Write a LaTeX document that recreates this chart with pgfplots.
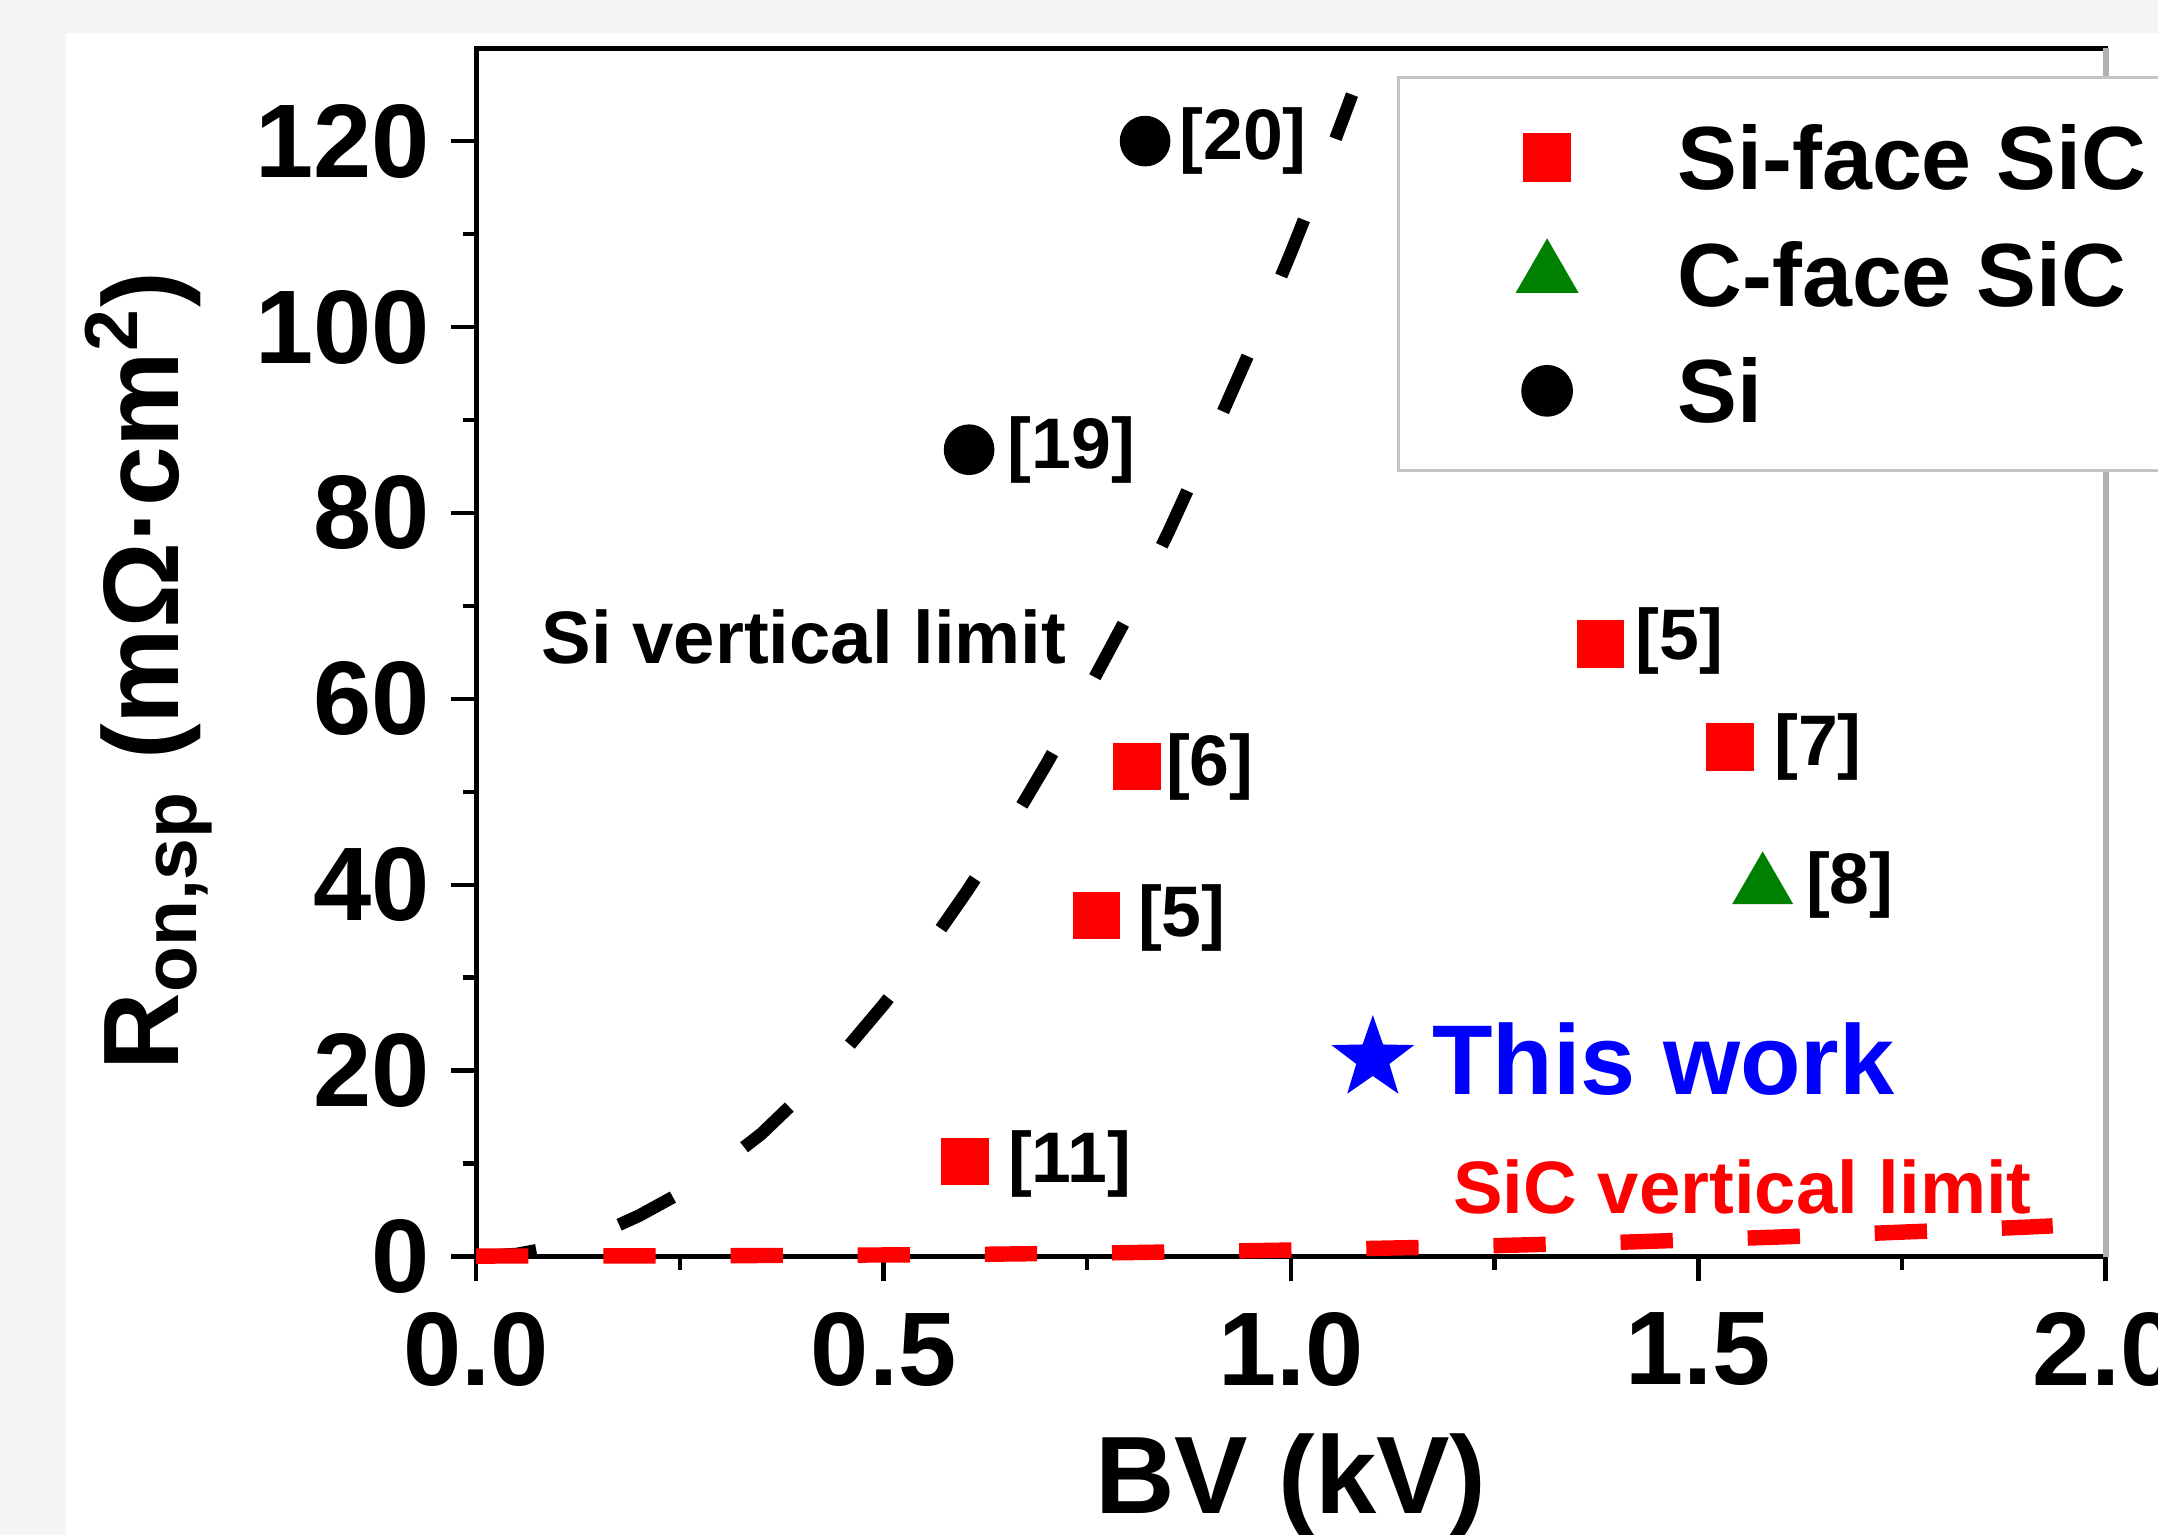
\documentclass[border=0pt]{standalone}
\usepackage{pgfplots}
\pgfplotsset{compat=1.18}
\usepackage{fontspec}
\setmainfont{Liberation Sans}
\definecolor{bgout}{HTML}{F4F6F6}
\definecolor{legendgray}{HTML}{C4C4C4}
\definecolor{rightgray}{HTML}{B0B0B0}
\definecolor{sqred}{HTML}{FF0000}
\definecolor{trigreen}{HTML}{008000}
\definecolor{starblue}{HTML}{0000FF}
\pgfdeclareplotmark{fstar}{%
  \pgfpathmoveto{\pgfpointpolar{90}{\pgfplotmarksize}}%
  \pgfpathlineto{\pgfpointpolar{126}{0.40\pgfplotmarksize}}%
  \pgfpathlineto{\pgfpointpolar{162}{\pgfplotmarksize}}%
  \pgfpathlineto{\pgfpointpolar{198}{0.40\pgfplotmarksize}}%
  \pgfpathlineto{\pgfpointpolar{234}{\pgfplotmarksize}}%
  \pgfpathlineto{\pgfpointpolar{270}{0.40\pgfplotmarksize}}%
  \pgfpathlineto{\pgfpointpolar{306}{\pgfplotmarksize}}%
  \pgfpathlineto{\pgfpointpolar{342}{0.40\pgfplotmarksize}}%
  \pgfpathlineto{\pgfpointpolar{18}{\pgfplotmarksize}}%
  \pgfpathlineto{\pgfpointpolar{54}{0.40\pgfplotmarksize}}%
  \pgfpathclose
  \pgfusepathqfill}
\begin{document}
\begin{tikzpicture}
\useasboundingbox (0,0) rectangle (392pt,278.75pt);
\fill[bgout] (0,0) rectangle (392pt,278.75pt);
\fill[white] (12pt,0) rectangle (392pt,272.75pt);
\begin{scope}
\clip (0,0) rectangle (392pt,278.75pt);
\begin{axis}[
  at={(86.5pt,50.5pt)}, anchor=south west,
  scale only axis, width=296pt, height=219.5pt,
  xmin=0, xmax=2, ymin=0, ymax=130,
  xtick={0,0.5,1,1.5,2}, ytick={0,20,...,120},
  minor x tick num=1, minor y tick num=1,
  tick align=outside, tick pos=left,
  major tick length=4.5pt, minor tick length=2.4pt,
  tick style={black, line width=0.8pt},
  axis line style={black, line width=0.9pt},
  /pgf/number format/assume math mode=true,
  ticklabel style={font=\fontsize{19}{22}\selectfont\bfseries},
  xticklabel style={/pgf/number format/fixed, /pgf/number format/fixed zerofill, /pgf/number format/precision=1, anchor=north, inner sep=0pt},
  yticklabel style={anchor=east, inner sep=0pt},
  yticklabel shift=3.75pt,
  xticklabel shift=5.5pt,
  xlabel={BV (kV)},
  xlabel style={at={(rel axis cs:0.5,-0.213)}, anchor=base, font=\fontsize{20}{24}\selectfont\bfseries},
  ylabel={R\textsubscript{on,sp} (mΩ·cm\textsuperscript{2})},
  ylabel style={at={(rel axis cs:-0.1824,0.4847)}, anchor=base, font=\fontsize{19.5}{23}\selectfont\bfseries},
  clip=false,
  legend cell align=left,
  legend image code/.code={\draw[#1] plot coordinates {(0pt,0pt)};},
  legend style={at={(rel axis cs:0.565,0.977)}, anchor=north west,
    draw=legendgray, line width=0.6pt, fill=white,
    inner xsep=21.8pt, inner ysep=8.7pt, row sep=9.5pt,
    font=\fontsize{16.3}{19}\selectfont\bfseries,
    nodes={inner sep=0pt, text height=11.6pt, text depth=0pt, anchor=west},
    /tikz/every odd column/.append style={column sep=18.5pt}},
]
% Si vertical limit
\addplot[forget plot, black, line width=2.3pt, dash pattern=on 11pt off 15.8pt] coordinates {
(0,0) (0.05,0.27) (0.1,1.1) (0.15,2.4) (0.2,4.4) (0.25,6.8) (0.3,9.8) (0.35,13.2)
(0.4,17.4) (0.45,21.9) (0.5,27.1) (0.55,32.7) (0.6,39.0) (0.65,45.6) (0.7,53.0)
(0.75,60.8) (0.8,69.0) (0.85,78.0) (0.9,87.6) (0.95,97.5) (1.0,108.0) (1.04,116.8) (1.075,125.0)};
% SiC vertical limit
\addplot[forget plot, sqred, line width=2.8pt, dash pattern=on 9.5pt off 13.6pt] coordinates {
(0,0.05) (0.2,0.07) (0.4,0.12) (0.6,0.22) (0.8,0.42) (1.0,0.7) (1.2,1.05)
(1.4,1.52) (1.6,2.1) (1.8,2.8) (1.9,3.15) (1.935,3.3)};
% Si-face SiC
\addplot[only marks, mark=square*, mark size=4.1pt, color=sqred, mark options={draw=none, fill=sqred}] coordinates {
(0.761,36.7) (0.811,52.7) (0.600,10.2) (1.380,65.9) (1.539,54.8)};
% C-face SiC
\addplot[only marks, mark=triangle*, mark size=6pt, color=trigreen, mark options={draw=none, fill=trigreen}] coordinates {
(1.579,39.8)};
% Si
\addplot[only marks, mark=*, mark size=4.4pt, color=black, mark options={draw=none, fill=black}] coordinates {
(0.605,86.8) (0.821,120.0)};
% This work
\addplot[forget plot, only marks, mark=fstar, mark size=7.9pt, color=starblue, mark options={fill=starblue}] coordinates {
(1.1005,21.3)};
\legend{Si-face SiC, C-face SiC, Si}
\draw[rightgray, line width=1.1pt] (rel axis cs:1,0) -- (rel axis cs:1,1);
\begin{scope}[every node/.style={anchor=west, inner sep=0pt, font=\fontsize{13}{15}\selectfont\bfseries}]
\node at (axis cs:0.8618,120.0) {[20]};
\node at (axis cs:0.651,86.8) {[19]};
\node at (axis cs:0.8455,52.7) {[6]};
\node at (axis cs:0.811,36.4) {[5]};
\node at (axis cs:0.6514,10.0) {[11]};
\node at (axis cs:1.422,66.2) {[5]};
\node at (axis cs:1.592,54.8) {[7]};
\node at (axis cs:1.631,40.0) {[8]};
\end{scope}
\node[anchor=west, inner sep=0pt, font=\fontsize{13.5}{16}\selectfont\bfseries] at (axis cs:0.079,66.7) {Si vertical limit};
\node[anchor=west, inner sep=0pt, text=sqred, font=\fontsize{13.5}{16}\selectfont\bfseries] at (axis cs:1.198,7.5) {SiC vertical limit};
\node[anchor=west, inner sep=0pt, text=starblue, font=\fontsize{18}{21}\selectfont\bfseries] at (axis cs:1.172,21.2) {This work};
\end{axis}
\end{scope}
\end{tikzpicture}
\end{document}
